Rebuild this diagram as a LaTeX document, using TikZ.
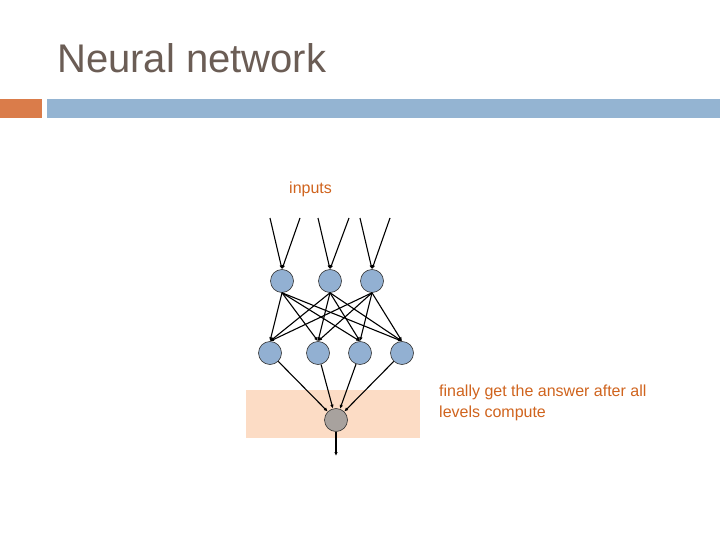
\documentclass[tikz,border=0pt]{standalone}
\usepackage{fontspec}
\setmainfont{Liberation Sans}
\usetikzlibrary{arrows.meta}
\definecolor{titlec}{HTML}{6B5D55}
\definecolor{barO}{HTML}{DA7C4A}
\definecolor{barB}{HTML}{94B4D2}
\definecolor{peach}{HTML}{FCDCC5}
\definecolor{nodeB}{HTML}{92B0D2}
\definecolor{nodeG}{HTML}{A8A29E}
\definecolor{txtO}{HTML}{D0641E}
\begin{document}
\begin{tikzpicture}[x=1pt,y=-1pt,
  neuron/.style={circle,draw=black!80,line width=0.6pt,fill=nodeB,minimum size=23pt,inner sep=0pt},
  edge/.style={line width=1.1pt,-{Latex[length=4pt,width=3.5pt]}},
  lbl/.style={text=txtO,font=\fontsize{16}{21}\selectfont,inner sep=0pt}]
\useasboundingbox (0,0) rectangle (720,540);
\fill[white] (0,0) rectangle (720,540);
\node[anchor=base west,text=titlec,font=\fontsize{40}{48}\selectfont,inner sep=0pt] (title) at (57,73) {Neural network};
\fill[barO] (0,99) rectangle (42,118);
\fill[barB] (47,99) rectangle (720,118);
\fill[peach] (246,390) rectangle (420,438);
\node[lbl,anchor=base west] (inp) at (289,194) {inputs};
\node[lbl,anchor=north west,align=left] (ans) at (439,385) {finally get the answer after all\\levels compute};
\node[neuron] (t1) at (282,281) {};
\node[neuron] (t2) at (330,281) {};
\node[neuron] (t3) at (372,281) {};
\node[neuron] (m1) at (270,353) {};
\node[neuron] (m2) at (318,353) {};
\node[neuron] (m3) at (360,353) {};
\node[neuron] (m4) at (402,353) {};
\node[neuron,fill=nodeG] (o) at (336,420) {};
\coordinate (a1) at (270,218); \coordinate (a2) at (300,218);
\coordinate (b1) at (318,218); \coordinate (b2) at (349,218);
\coordinate (c1) at (360,218); \coordinate (c2) at (390,218);
\coordinate (out) at (336,456);
\draw[edge] (a1) -- (t1.north); \draw[edge] (a2) -- (t1.north);
\draw[edge] (b1) -- (t2.north); \draw[edge] (b2) -- (t2.north);
\draw[edge] (c1) -- (t3.north); \draw[edge] (c2) -- (t3.north);
\foreach \t in {t1,t2,t3}{\foreach \m in {m1,m2,m3,m4}{\draw[edge] (\t.south) -- (\m.north);}}
\foreach \m in {m1,m2,m3,m4}{\draw[edge] (\m) -- (o);}
\draw[edge] (o.south) -- (out);
\end{tikzpicture}
\end{document}
